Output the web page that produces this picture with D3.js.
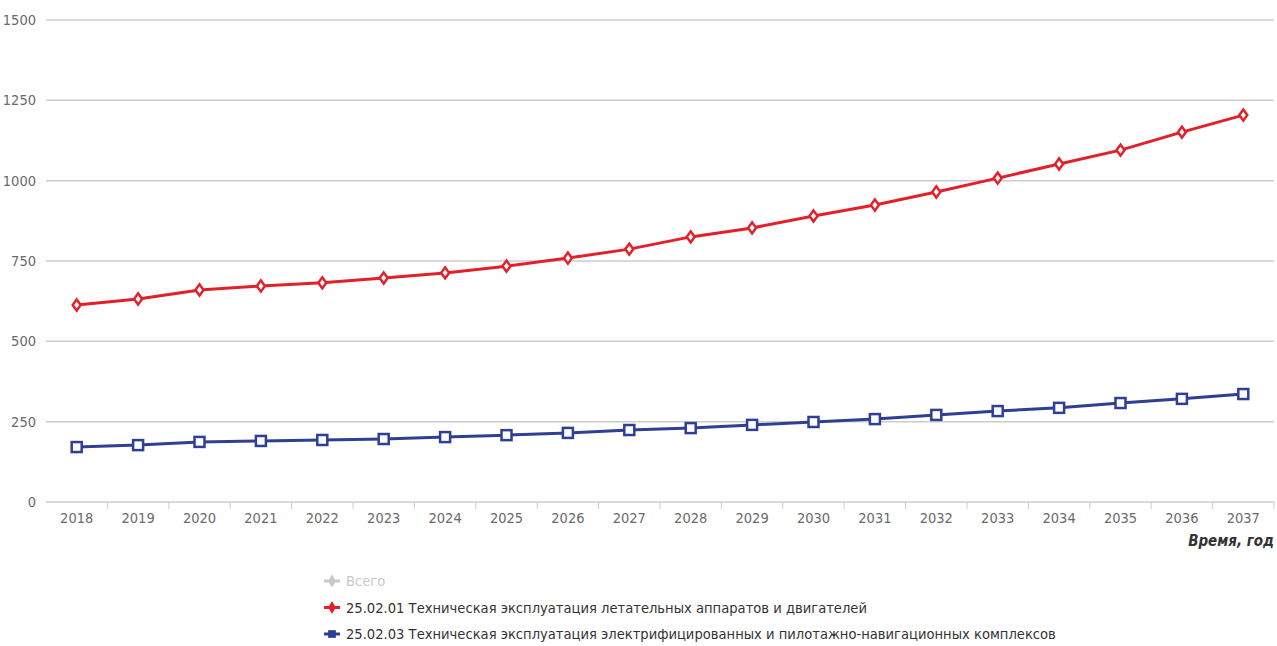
<!DOCTYPE html>
<html>
<head>
<meta charset="utf-8">
<script src="https://cdn.jsdelivr.net/npm/d3@7"></script>
<style>
  body { margin: 0; background: #fff; }
  svg { display: block; font-family: "DejaVu Sans Condensed", "DejaVu Sans", sans-serif; }
</style>
</head>
<body>
<div id="vis"></div>
<script>
var years = ["2018","2019","2020","2021","2022","2023","2024","2025","2026","2027",
             "2028","2029","2030","2031","2032","2033","2034","2035","2036","2037"];
var avia = [613, 632, 660, 672, 682, 697, 713, 734, 759, 787,
            825, 853, 890, 924, 965, 1008, 1052, 1095, 1151, 1204];
var electro = [171, 177, 187, 190, 193, 196, 202, 208, 215, 224,
               230, 240, 249, 258, 271, 283, 293, 308, 321, 336];
var yTicks = [0, 250, 500, 750, 1000, 1250, 1500];
var legendNames = [
  "Всего",
  "25.02.01 Техническая эксплуатация летательных аппаратов и двигателей",
  "25.02.03 Техническая эксплуатация электрифицированных и пилотажно-навигационных комплексов"
];

var W = 1277, H = 646;
var plotLeft = 46, plotRight = 1274, plotTop = 20, plotBottom = 502;

var svg = d3.select("#vis").append("svg")
    .attr("width", W).attr("height", H);

var x = d3.scaleBand().domain(years).range([plotLeft, plotRight]);
var y = d3.scaleLinear().domain([0, 1500]).range([plotBottom, plotTop]);
var cx = function (i) { return x(years[i]) + x.bandwidth() / 2; };

// grid lines
svg.append("g").selectAll("line").data(yTicks).enter().append("line")
    .attr("x1", plotLeft).attr("x2", plotRight)
    .attr("y1", function (d) { return y(d); })
    .attr("y2", function (d) { return y(d); })
    .attr("stroke", "#cccccc")
    .attr("stroke-width", 1.5);

// y labels
svg.append("g").selectAll("text").data(yTicks).enter().append("text")
    .attr("x", 36)
    .attr("y", function (d) { return y(d) + 5; })
    .attr("text-anchor", "end")
    .attr("fill", "#6a6a6a")
    .style("font-size", "14.5px")
    .text(function (d) { return d; });

// x tick marks at band boundaries
var bounds = years.map(function (d) { return x(d); }).concat([plotRight]);
svg.append("g").selectAll("line").data(bounds.slice(1)).enter().append("line")
    .attr("x1", function (d) { return d; }).attr("x2", function (d) { return d; })
    .attr("y1", plotBottom).attr("y2", plotBottom + 7)
    .attr("stroke", "#cccccc").attr("stroke-width", 1);

// x labels
svg.append("g").selectAll("text").data(years).enter().append("text")
    .attr("x", function (d, i) { return cx(i); })
    .attr("y", 523)
    .attr("text-anchor", "middle")
    .attr("fill", "#6a6a6a")
    .style("font-size", "14.5px")
    .text(function (d) { return d; });

svg.append("text")
    .attr("x", 1274).attr("y", 546)
    .attr("text-anchor", "end")
    .attr("fill", "#333")
    .style("font-size", "15px")
    .style("font-weight", "bold")
    .style("font-style", "italic")
    .text("Время, год");

var line = d3.line()
    .x(function (d, i) { return cx(i); })
    .y(function (d) { return y(d); });

// red series
svg.append("path").datum(avia)
    .attr("d", line).attr("fill", "none")
    .attr("stroke", "#e3202a").attr("stroke-width", 3);
svg.append("g").selectAll("path").data(avia).enter().append("path")
    .attr("d", d3.symbol().type(d3.symbolDiamond).size(50))
    .attr("transform", function (d, i) { return "translate(" + cx(i) + "," + y(d) + ") scale(1.05,0.85)"; })
    .attr("fill", "#fff").attr("stroke", "#e3202a").attr("stroke-width", 2.5);

// blue series
svg.append("path").datum(electro)
    .attr("d", line).attr("fill", "none")
    .attr("stroke", "#2f3f94").attr("stroke-width", 3);
svg.append("g").selectAll("rect").data(electro).enter().append("rect")
    .attr("x", function (d, i) { return cx(i) - 5; })
    .attr("y", function (d) { return y(d) - 5; })
    .attr("width", 10).attr("height", 10)
    .attr("fill", "#fff").attr("stroke", "#2f3f94").attr("stroke-width", 2.5);

// legend
var legColors = ["#c8c8c8", "#e3202a", "#2f3f94"];
var leg = svg.append("g").selectAll("g").data(legendNames).enter().append("g")
    .attr("transform", function (d, i) { return "translate(324," + (581 + i * 26.5) + ")"; });
leg.append("line")
    .attr("x1", 0).attr("x2", 16).attr("y1", 0).attr("y2", 0)
    .attr("stroke", function (d, i) { return legColors[i]; })
    .attr("stroke-width", 3);
leg.append("path")
    .attr("d", function (d, i) { return d3.symbol().type(i === 2 ? d3.symbolSquare : d3.symbolDiamond).size(i === 2 ? 60 : 50)(); })
    .attr("transform", "translate(8,0)")
    .attr("fill", function (d, i) { return legColors[i]; });
leg.append("text")
    .attr("x", 22).attr("y", 5)
    .attr("fill", function (d, i) { return i === 0 ? "#c8c8c8" : "#333"; })
    .style("font-size", "14.6px")
    .text(function (d) { return d; });
</script>
</body>
</html>
